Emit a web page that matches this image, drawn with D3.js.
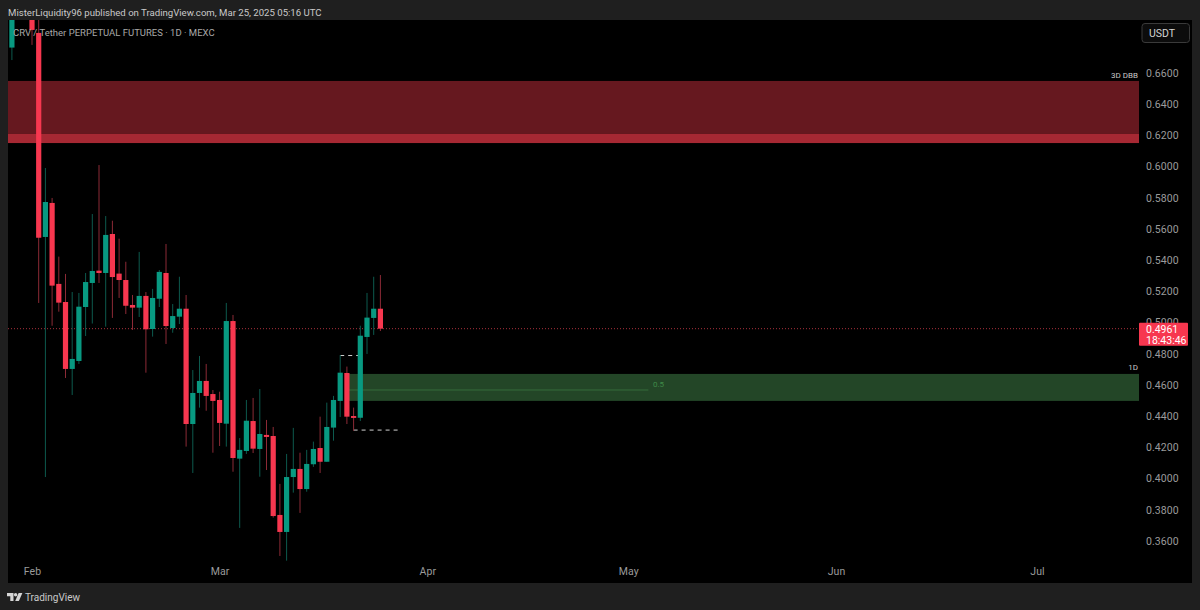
<!DOCTYPE html>
<html>
<head>
<meta charset="utf-8">
<script src="https://cdn.jsdelivr.net/npm/d3@7"></script>
<style>
  html, body { margin: 0; padding: 0; background: #1f1f1f; overflow: hidden; }
  svg { display: block; font-family: Roboto, Inter, sans-serif; }
  .axis path, .axis line { display: none; }
  .axis text { fill: #9b9b9b; font-size: 10.5px; font-family: Roboto, Inter, sans-serif; letter-spacing: 0.1px; }
</style>
</head>
<body>
<div id="chart"></div>
<script>
// daily candles from Jan 29 2025, null = candle sits above the visible pane
var firstDay = "2025-01-29";
var opens = [0.6763,null,null,0.6945,0.6857,0.5549,0.5767,0.5248,0.5132,0.4703,0.4754,0.5100,0.5254,0.5333,0.5318,0.5568,0.5314,0.5273,0.5113,0.5096,0.5171,0.4959,0.5153,0.5318,0.4965,0.5038,0.5089,0.4350,0.4549,0.4626,0.4542,0.4504,0.4352,0.5010,0.4128,0.4177,0.4369,0.4190,0.4280,0.4273,0.3767,0.3658,0.4010,0.4062,0.3933,0.4092,0.4196,0.4108,0.4327,0.4498,0.4677,0.4401,0.4390,0.4908,0.5030,0.5089];
var highs = [0.6945,null,null,0.6945,0.6945,0.5991,0.5799,0.5423,0.5312,0.5196,0.5190,0.5318,0.5696,0.6010,0.5683,0.5653,0.5538,0.5390,0.5177,0.5453,0.5196,0.5216,0.5337,0.5504,0.5119,0.5294,0.5177,0.4696,0.4786,0.4735,0.4568,0.4557,0.5126,0.5049,0.4260,0.4504,0.4517,0.4574,0.4376,0.4331,0.3966,0.4158,0.4325,0.4166,0.4184,0.4237,0.4397,0.4487,0.4530,0.4792,0.4718,0.4455,0.4980,0.5190,0.5294,0.5305];
var lows = [0.6683,null,null,0.6780,0.5126,0.4010,0.4980,0.5070,0.4645,0.4536,0.4735,0.4914,0.4994,0.5254,0.4974,0.5030,0.5158,0.5055,0.4953,0.5036,0.4679,0.4910,0.5100,0.4863,0.4935,0.4991,0.4205,0.4036,0.4455,0.4435,0.4166,0.4209,0.4205,0.4044,0.3684,0.4158,0.4164,0.4012,0.4055,0.3750,0.3504,0.3474,0.3910,0.3780,0.3916,0.4075,0.4036,0.4108,0.4243,0.4395,0.4350,0.4307,0.4369,0.4799,0.4921,0.4946];
var closes = [0.6945,null,null,0.6876,0.5544,0.5773,0.5237,0.5128,0.4703,0.4767,0.5102,0.5260,0.5331,0.5318,0.5562,0.5292,0.5273,0.5108,0.5096,0.5171,0.4957,0.5158,0.5325,0.4978,0.5042,0.5089,0.4350,0.4549,0.4626,0.4530,0.4498,0.4357,0.5010,0.4132,0.4184,0.4371,0.4192,0.4286,0.4267,0.3760,0.3658,0.4010,0.4062,0.3933,0.4094,0.4190,0.4108,0.4331,0.4504,0.4679,0.4397,0.4389,0.4916,0.5032,0.5089,0.4961];

var priceTicks = [0.66,0.64,0.62,0.60,0.58,0.56,0.54,0.52,0.50,0.48,0.46,0.44,0.42,0.40,0.38,0.36];
var monthTicks = ["2025-02-01","2025-03-01","2025-04-01","2025-05-01","2025-06-01","2025-07-01"];
var monthNames = ["Feb","Mar","Apr","May","Jun","Jul"];

var lastPrice = 0.4961;
var countdown = "18:43:46";
var redZone = [0.6549, 0.6151];
var redZoneBand = [0.6209, 0.6151];
var greenZone = [0.4671, 0.4498];
var greenZoneStart = "2025-03-20";
var midLevel = 0.4568;
var midLevelEnd = "2025-05-04";
var sweepHigh = { price: 0.4789, from: "2025-03-19", to: "2025-03-22" };
var sweepLow = { price: 0.4311, from: "2025-03-21", to: "2025-03-28" };

var width = 1200, height = 610;
var pane = { left: 8, top: 20, right: 1192, bottom: 583, axis: 1139 };

var x = d3.scaleUtc()
  .domain([new Date("2025-02-01"), new Date("2025-07-01")])
  .range([32, 1037]);
var y = d3.scaleLinear().domain([0.66, 0.36]).range([73, 541]);

var greenBody = "#089981", redBody = "#f7374f";
var greenWick = "#0d5a4e", redWick = "#8c2a36";

var svg = d3.select("#chart").append("svg").attr("width", width).attr("height", height);

svg.append("rect").attr("width", width).attr("height", height).attr("fill", "#1f1f1f");
svg.append("rect")
  .attr("x", pane.left).attr("y", pane.top)
  .attr("width", pane.right - pane.left).attr("height", pane.bottom - pane.top)
  .attr("fill", "#000");

svg.append("clipPath").attr("id", "pane-clip").append("rect")
  .attr("x", pane.left).attr("y", pane.top)
  .attr("width", pane.axis - pane.left).attr("height", pane.bottom - pane.top);

var plot = svg.append("g").attr("clip-path", "url(#pane-clip)");

// zones
plot.append("rect")
  .attr("x", pane.left).attr("width", pane.axis - pane.left)
  .attr("y", y(redZone[0])).attr("height", y(redZone[1]) - y(redZone[0]))
  .attr("fill", "#66181f");
plot.append("rect")
  .attr("x", pane.left).attr("width", pane.axis - pane.left)
  .attr("y", y(redZoneBand[0])).attr("height", y(redZoneBand[1]) - y(redZoneBand[0]))
  .attr("fill", "#a62833");

var greenLeft = x(new Date(greenZoneStart));
plot.append("rect")
  .attr("x", greenLeft).attr("width", pane.axis - greenLeft)
  .attr("y", y(greenZone[0])).attr("height", y(greenZone[1]) - y(greenZone[0]))
  .attr("fill", "#234627");
plot.append("line")
  .attr("x1", greenLeft).attr("x2", x(new Date(midLevelEnd)))
  .attr("y1", y(midLevel)).attr("y2", y(midLevel))
  .attr("stroke", "#356b3b").attr("stroke-width", 1);

// last price line
plot.append("line")
  .attr("x1", pane.left).attr("x2", pane.axis)
  .attr("y1", y(lastPrice)).attr("y2", y(lastPrice))
  .attr("stroke", "#a8303c").attr("stroke-width", 1).attr("stroke-dasharray", "1 2");

// dashed sweep levels
[sweepHigh, sweepLow].forEach(function(d) {
  plot.append("line")
    .attr("x1", x(new Date(d.from))).attr("x2", x(new Date(d.to)))
    .attr("y1", y(d.price)).attr("y2", y(d.price))
    .attr("stroke", "#d0d0d0").attr("stroke-width", 1).attr("stroke-dasharray", "4 4");
});

// candles
var candles = opens.map(function(o, i) {
  return {
    date: d3.utcDay.offset(new Date(firstDay), i),
    open: o, high: highs[i], low: lows[i], close: closes[i]
  };
}).filter(function(d) { return d.open !== null; });

plot.selectAll(".wick").data(candles).enter().append("line")
  .attr("class", "wick")
  .attr("x1", function(d) { return x(d.date); })
  .attr("x2", function(d) { return x(d.date); })
  .attr("y1", function(d) { return y(d.high); })
  .attr("y2", function(d) { return y(d.low); })
  .attr("stroke", function(d) { return d.close >= d.open ? greenWick : redWick; })
  .attr("stroke-width", 1);

plot.selectAll(".body").data(candles).enter().append("rect")
  .attr("class", "body")
  .attr("x", function(d) { return x(d.date) - 2.6; })
  .attr("width", 5.2)
  .attr("y", function(d) { return y(Math.max(d.open, d.close)); })
  .attr("height", function(d) { return Math.max(1.5, Math.abs(y(d.open) - y(d.close))); })
  .attr("fill", function(d) { return d.close >= d.open ? greenBody : redBody; });

// axes
svg.append("g").attr("class", "axis")
  .attr("transform", "translate(" + (pane.axis - 3) + ",0)")
  .call(d3.axisRight(y).tickValues(priceTicks).tickFormat(d3.format(".4f")).tickSize(0).tickPadding(10));

svg.append("g").attr("class", "axis")
  .attr("transform", "translate(0,564)")
  .call(d3.axisBottom(x)
    .tickValues(monthTicks.map(function(d) { return new Date(d); }))
    .tickFormat(function(d, i) { return monthNames[i]; })
    .tickSize(0).tickPadding(4));

// zone labels
svg.append("text").text("3D DBB")
  .attr("x", pane.axis - 1).attr("y", 78).attr("text-anchor", "end")
  .attr("fill", "#c8c8c8").style("font-size", "8px");
svg.append("text").text("1D")
  .attr("x", pane.axis - 1).attr("y", 370).attr("text-anchor", "end")
  .attr("fill", "#c8c8c8").style("font-size", "8px");
svg.append("text").text("0.5")
  .attr("x", 653).attr("y", 387)
  .attr("fill", "#3f8a48").style("font-size", "8px");

// price tag
svg.append("rect")
  .attr("x", pane.axis).attr("y", y(lastPrice) - 6).attr("width", 49).attr("height", 23).attr("rx", 1)
  .attr("fill", redBody);
svg.append("text").text(d3.format(".4f")(lastPrice))
  .attr("x", 1146).attr("y", y(lastPrice) + 4)
  .attr("fill", "#fff").style("font-size", "10.5px");
svg.append("text").text(countdown)
  .attr("x", 1146).attr("y", y(lastPrice) + 15)
  .attr("fill", "#fff").style("font-size", "10.5px");

// currency button
svg.append("rect")
  .attr("x", 1142).attr("y", 23.5).attr("width", 47.5).attr("height", 19).attr("rx", 3)
  .attr("fill", "#0c0c0c").attr("stroke", "#3a3a3a");
svg.append("text").text("USDT")
  .attr("x", 1149).attr("y", 36.5)
  .attr("fill", "#d4d4d4").style("font-size", "10.5px");

// titles
svg.append("text").text("MisterLiquidity96 published on TradingView.com, Mar 25, 2025 05:16 UTC")
  .attr("x", 8).attr("y", 16)
  .attr("fill", "#c9c9c9").style("font-size", "9.6px");
svg.append("text").text("CRV / Tether PERPETUAL FUTURES · 1D · MEXC")
  .attr("x", 13).attr("y", 36)
  .attr("fill", "#a9a9a9").style("font-size", "9.5px");

// footer
var logo = svg.append("g").attr("transform", "translate(7,593)").attr("fill", "#d6d6d6");
logo.append("path").attr("d", "M0 0H6.5V8H3.3V3.2H0Z");
logo.append("circle").attr("cx", 8.6).attr("cy", 1.7).attr("r", 1.7);
logo.append("path").attr("d", "M11.6 0H15.4L11.9 8H8.2Z");
svg.append("text").text("TradingView")
  .attr("x", 25).attr("y", 601)
  .attr("fill", "#c9c9c9").style("font-size", "10px");
</script>
</body>
</html>
